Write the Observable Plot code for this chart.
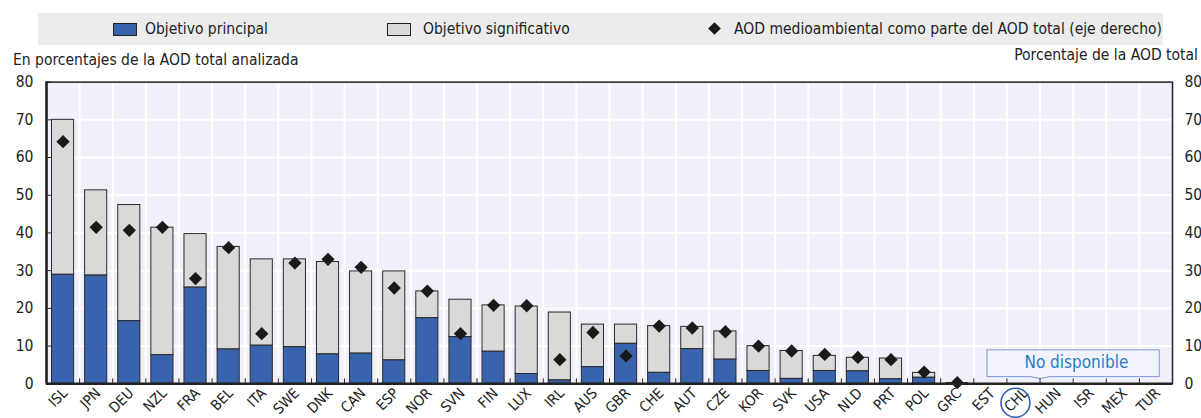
<!DOCTYPE html>
<html>
<head>
<meta charset="utf-8">
<script src="https://cdn.jsdelivr.net/npm/d3@7"></script>
<script src="https://cdn.jsdelivr.net/npm/@observablehq/plot@0.6"></script>
<style>
  html, body { margin: 0; padding: 0; background: #fff; }
  body { width: 1201px; height: 418px; position: relative; overflow: hidden;
         font-family: "Liberation Sans Narrow", "Arial Narrow", "DejaVu Sans Condensed", sans-serif; color: #222; }
  #chart { position: absolute; left: 0; top: 0; }
  .legend { position: absolute; left: 38px; top: 13px; width: 1125px; height: 32px; background: #ececec; }
  .sw { position: absolute; top: 10px; width: 22px; height: 11px; border: 1px solid #222; }
  .lt { position: absolute; top: 6px; font-size: 15.5px; line-height: 20px; white-space: nowrap; }
  .dia { position: absolute; top: 11px; width: 9px; height: 9px; background: #1a1a1a; transform: rotate(45deg); }
  .ytitle { position: absolute; font-size: 15.5px; white-space: nowrap; line-height: 20px; }
</style>
</head>
<body>
<div id="chart"></div>
<div class="legend">
  <div class="sw" style="left:75px;background:#3a63ad"></div>
  <div class="lt" style="left:107px">Objetivo principal</div>
  <div class="sw" style="left:349px;background:#d9d9d9"></div>
  <div class="lt" style="left:385px">Objetivo significativo</div>
  <div class="dia" style="left:672px"></div>
  <div class="lt" style="left:696px">AOD medioambiental como parte del AOD total (eje derecho)</div>
</div>
<div class="ytitle" style="left:13px;top:50px">En porcentajes de la AOD total analizada</div>
<div class="ytitle" style="right:3px;top:45px">Porcentaje de la AOD total</div>
<script>
const countries = ["ISL","JPN","DEU","NZL","FRA","BEL","ITA","SWE","DNK","CAN","ESP","NOR","SVN","FIN","LUX","IRL","AUS","GBR","CHE","AUT","CZE","KOR","SVK","USA","NLD","PRT","POL","GRC","EST","CHL","HUN","ISR","MEX","TUR"];
const principal = [28.9,28.7,16.6,7.6,25.5,9.1,10.1,9.7,7.8,8.0,6.2,17.4,12.4,8.5,2.6,0.9,4.4,10.6,2.9,9.2,6.4,3.4,1.3,3.4,3.3,1.2,1.6,0.0,null,null,null,null,null,null];
const significativo = [41.1,22.6,30.8,33.8,14.2,27.2,22.9,23.3,24.5,21.8,23.6,7.1,9.9,12.3,17.9,18.0,11.3,5.1,12.4,5.9,7.5,6.6,7.4,4.0,3.6,5.5,1.3,0.2,null,null,null,null,null,null];
const aodShare = [64.2,41.5,40.7,41.5,27.9,36.1,13.3,32.0,33.0,30.9,25.4,24.6,13.3,20.8,20.7,6.4,13.6,7.4,15.3,14.8,13.8,10.0,8.7,7.8,7.0,6.4,3.1,0.3,null,null,null,null,null,null];
const yTicks = [0,10,20,30,40,50,60,70,80];
const notAvailable = ["EST","CHL","HUN","ISR","MEX","TUR"];
const noteText = "No disponible";
const circled = "CHL";

const rows = countries.map((c, i) => ({country: c, i, p: principal[i], s: significativo[i], share: aodShare[i]}));
const withData = rows.filter(d => d.p != null);
const segP = withData.map(d => ({i: d.i, y1: 0, y2: d.p}));
const segS = withData.map(d => ({i: d.i, y1: d.p, y2: d.p + d.s}));
const dots = rows.filter(d => d.share != null);

const firstNA = countries.indexOf(notAvailable[0]);
const lastNA = countries.indexOf(notAvailable[notAvailable.length - 1]);
const bx1 = firstNA + 0.4, bx2 = lastNA + 0.6, by1 = 1.9, by2 = 9.0;
const notch = countries.indexOf(circled) + 0.5;
const callout = [[bx1,by2],[bx2,by2],[bx2,by1],[notch+0.8,by1],[notch+0.5,by1-0.5],[notch+0.2,by1],[bx1,by1],[bx1,by2]].map(([x,y]) => ({x, y}));

const bounds = d3.range(1, countries.length);

const plot = Plot.plot({
  width: 1201,
  height: 418,
  marginTop: 81.6,
  marginBottom: 34.7,
  marginLeft: 46,
  marginRight: 29,
  style: {fontFamily: '"Liberation Sans Narrow", "Arial Narrow", "DejaVu Sans Condensed", sans-serif', fontSize: "15.5px", color: "#222", background: "transparent"},
  x: {domain: [0, countries.length]},
  y: {domain: [0, 80]},
  marks: [
    Plot.frame({fill: "#eff0f9", stroke: "none"}),
    Plot.ruleY(yTicks.slice(1, -1), {stroke: "#fff", strokeWidth: 2}),
    Plot.ruleX(bounds, {stroke: "#fff", strokeWidth: 2}),
    Plot.rectY(segS, {x1: "i", x2: d => d.i + 1, y1: "y1", y2: "y2", insetLeft: 5.5, insetRight: 5.5, fill: "#d9d9d9", stroke: "#2a2a2a", strokeWidth: 1}),
    Plot.rectY(segP, {x1: "i", x2: d => d.i + 1, y1: "y1", y2: "y2", insetLeft: 5.5, insetRight: 5.5, fill: "#3a63ad", stroke: "#2a2a2a", strokeWidth: 1}),
    Plot.dot(dots, {x: d => d.i + 0.5, y: "share", symbol: "square", rotate: 45, r: 5.3, fill: "#1a1a1a", stroke: "none"}),
    Plot.line(callout, {x: "x", y: "y", stroke: "#7b9ad6", strokeWidth: 1, fill: "#f3f4fb"}),
    Plot.text([noteText], {x: (bx1 + bx2) / 2 + 0.1, y: (by1 + by2) / 2 + 0.1, text: d => d, fill: "#1f7ec4", fontSize: 17}),
    Plot.frame({stroke: "#222", strokeWidth: 1.5}),
    Plot.ruleY([0], {stroke: "#222", strokeWidth: 2.5}),
    Plot.ruleX([0], {stroke: "#222", strokeWidth: 2.5}),
    Plot.axisY({anchor: "left", ticks: yTicks, tickSize: 5, dx: 5, tickFormat: () => "", label: null, stroke: "#222"}),
    Plot.axisY({anchor: "left", ticks: yTicks, tickSize: 0, tickPadding: 13, label: null, fontSize: 15.5}),
    Plot.axisY({anchor: "right", ticks: yTicks, tickSize: 0, tickPadding: 12, label: null, fontSize: 15.5}),
    Plot.axisX({ticks: bounds, tickSize: 5, dy: -5, tickFormat: () => "", label: null}),
    Plot.text(rows, {x: d => d.i + 0.5, y: 0, text: "country", rotate: -45, textAnchor: "end", dx: 2, dy: 7, fontSize: 14.5, fill: "#222"}),
    Plot.dot([circled], {x: d => countries.indexOf(d) + 0.5, y: 0, dx: -8, dy: 19, r: 14.5, stroke: "#2a5db0", strokeWidth: 1.5, fill: "none"})
  ]
});
document.getElementById("chart").appendChild(plot);
</script>
</body>
</html>
